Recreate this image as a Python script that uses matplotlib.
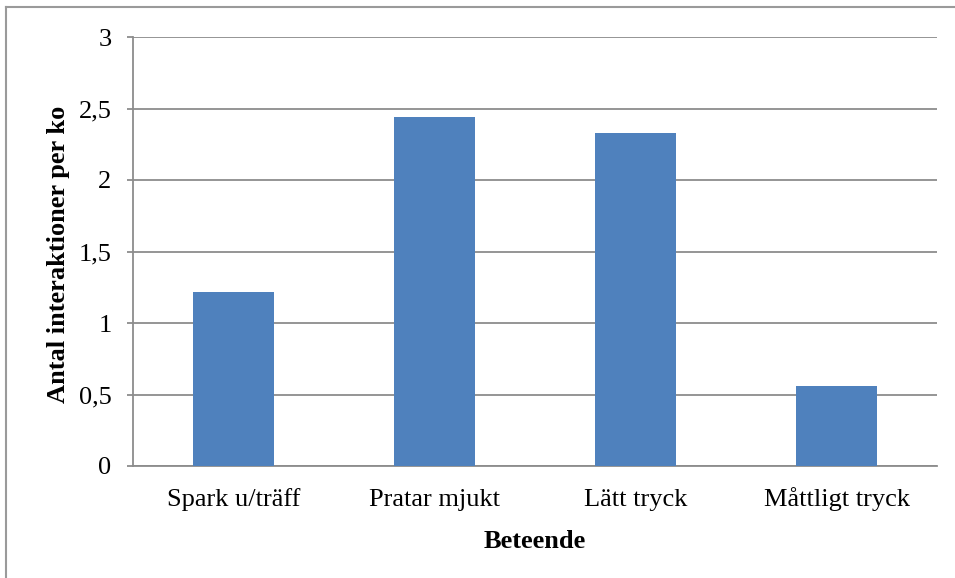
import matplotlib
matplotlib.use('Agg')
import matplotlib.pyplot as plt
from matplotlib.lines import Line2D

# Interaktioner per ko för olika beteenden
beteenden = ['Spark u/träff', 'Pratar mjukt', 'Lätt tryck', 'Måttligt tryck']
antal = [1.22, 2.44, 2.33, 0.56]
yticks = [0, 0.5, 1, 1.5, 2, 2.5, 3]
ytick_labels = ['0', '0,5', '1', '1,5', '2', '2,5', '3']

plt.rcParams['font.family'] = ['Liberation Serif', 'DejaVu Serif']

W, H = 955, 578
fig = plt.figure(figsize=(W / 100, H / 100), dpi=100)
fig.patch.set_facecolor('white')

# Axes placed in pixel terms
left, right, top, bottom = 133, 937, 37, 466
ax = fig.add_axes([left / W, 1 - bottom / H, (right - left) / W, (bottom - top) / H])

grid_col = '#8c8c8c'
x = range(len(beteenden))
ax.bar(x, antal, width=0.4, color='#4f81bd', zorder=3)

ax.set_xlim(-0.5, len(beteenden) - 0.5)
ax.set_ylim(0, 3)
ax.set_yticks(yticks)
ax.set_yticklabels(ytick_labels)
ax.set_xticks(list(x))
ax.set_xticklabels(beteenden, va='baseline')

ax.yaxis.grid(True, color=grid_col, linewidth=1.3, zorder=0)
ax.set_axisbelow(True)
for s in ['top', 'right']:
    ax.spines[s].set_visible(False)
for s in ['left', 'bottom']:
    ax.spines[s].set_color(grid_col)
    ax.spines[s].set_linewidth(1.3)

ax.tick_params(axis='y', direction='out', length=4.5, width=1.3, color=grid_col,
               labelsize=19, pad=11)
# baseline-aligned category labels so accents don't shift them
ax.tick_params(axis='x', length=0, labelsize=19, pad=29)

# Axis titles
fig.text(58 / W, 1 - 254 / H, 'Antal interaktioner per ko', rotation=90,
         ha='center', va='center', fontsize=19, fontweight='bold')
fig.text(535 / W, 1 - 541 / H, 'Beteende', ha='center', va='center',
         fontsize=19, fontweight='bold')

# Chart frame
fc = '#9a9a9a'
fig.add_artist(Line2D([6 / W, 1], [1 - 7 / H, 1 - 7 / H], color=fc, linewidth=1.5,
                      transform=fig.transFigure))
fig.add_artist(Line2D([6 / W, 6 / W], [0, 1 - 7 / H], color=fc, linewidth=1.5,
                      transform=fig.transFigure))

fig.savefig('out.png', dpi=100)
